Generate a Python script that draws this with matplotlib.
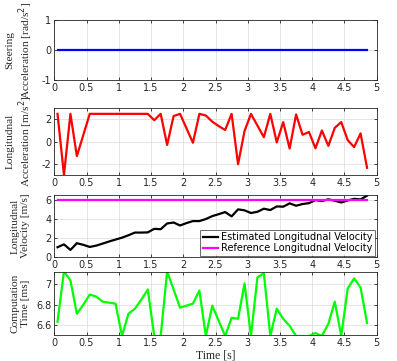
import numpy as np
import matplotlib
matplotlib.use("Agg")
import matplotlib.pyplot as plt

plt.rcParams["axes.unicode_minus"] = False

time_s = [round(0.05 + 0.1 * i, 2) for i in range(49)]

steer_acc = [0.0] * 49

long_acc = [2.5, -3.0, 2.5, -1.3, 0.6, 2.5, 2.5, 2.5, 2.5, 2.5,
            2.5, 2.5, 2.5, 2.5, 2.5, 1.93, 2.5, -0.3, 2.3, 2.5,
            1.2, -0.1, 2.5, 2.35, 1.8, 1.4, 1.05, 2.5, -2.03, 0.95,
            2.5, 1.45, 0.4, 2.5, -0.07, 1.76, -0.62, 2.45, 0.62, 0.87,
            -0.6, 1.0, -0.38, 1.24, 1.76, 0.14, -0.49, 0.74, -2.35]

long_vel = [1.05, 1.35, 0.77, 1.47, 1.3, 1.08, 1.22, 1.43, 1.65, 1.85,
            2.05, 2.3, 2.58, 2.58, 2.6, 2.97, 2.93, 3.53, 3.63, 3.32,
            3.57, 3.78, 3.78, 3.99, 4.3, 4.5, 4.72, 4.27, 5.0, 4.9,
            4.62, 4.75, 5.07, 4.93, 5.31, 5.28, 5.63, 5.38, 5.56, 5.65,
            5.97, 5.87, 6.05, 5.9, 5.72, 5.93, 6.1, 6.04, 6.43]

ref_vel = [6.0] * 49

comp_time = [6.63, 7.13, 7.04, 6.71, 6.8, 6.9, 6.88, 6.83, 6.82, 6.81,
             6.49, 6.71, 6.76, 6.85, 6.95, 6.49, 6.49, 7.13, 6.95, 6.77,
             6.79, 6.81, 6.94, 6.49, 6.79, 6.64, 6.49, 6.67, 6.66, 7.01,
             6.49, 7.07, 7.11, 6.49, 6.76, 6.66, 6.59, 6.49, 6.49, 6.49,
             6.52, 6.49, 6.61, 6.83, 6.49, 6.96, 7.06, 6.97, 6.62]

xticks = [0, 0.5, 1, 1.5, 2, 2.5, 3, 3.5, 4, 4.5, 5]
xticklabels = ["0", "0.5", "1", "1.5", "2", "2.5", "3", "3.5", "4", "4.5", "5"]

W, H = 397, 361
fig = plt.figure(figsize=(W / 100, H / 100), dpi=100)

left, right = 54.3, 376.7
panels = [(20, 80), (108.3, 175), (195, 257.3), (272.3, 335)]

serif = ["Liberation Serif", "DejaVu Serif"]
tick_color = (0.15, 0.15, 0.15)
edge_color = (0.15, 0.15, 0.15)
label_kw = dict(family=serif, fontsize=8.2, va="center", color=tick_color,
                linespacing=1.15)

axes = []
for top, bot in panels:
    ax = fig.add_axes([left / W, 1 - bot / H, (right - left) / W, (bot - top) / H])
    ax.set_xlim(0, 5)
    ax.set_xticks(xticks)
    ax.set_xticklabels(xticklabels)
    ax.grid(True, color=(0.88, 0.88, 0.88), linewidth=0.6)
    ax.set_axisbelow(True)
    ax.tick_params(direction="in", length=2.5, width=0.6, labelsize=7,
                   colors=tick_color, pad=2, top=True, right=True,
                   labeltop=False, labelright=False)
    for s in ax.spines.values():
        s.set_color(edge_color)
        s.set_linewidth(0.6)
    axes.append(ax)

ax1, ax2, ax3, ax4 = axes

ax1.plot(time_s, steer_acc, color="blue", lw=1.6)
ax1.set_ylim(-1, 1)
ax1.set_yticks([-1, 0, 1])
ax1.set_ylabel("Steering\nAcceleration [rad/s$^2$]", **label_kw)

ax2.plot(time_s, long_acc, color="red", lw=1.6)
ax2.set_ylim(-3, 3)
ax2.set_yticks([-2, 0, 2])
ax2.set_ylabel("Longitudnal\nAcceleration [m/s$^2$]", **label_kw)

ax3.plot(time_s, long_vel, color="black", lw=1.6, label="Estimated Longitudnal Velocity")
ax3.plot(time_s, ref_vel, color="magenta", lw=1.6, label="Reference Longitudnal Velocity")
ax3.set_ylim(0, 6.5)
ax3.set_yticks([0, 2, 4, 6])
ax3.set_ylabel("Longitudnal\nVelocity [m/s]", **label_kw)
leg = ax3.legend(loc="lower right", fontsize=7, frameon=True, fancybox=False,
                 borderpad=0.25, labelspacing=0.15, handlelength=1.6,
                 handletextpad=0.3, borderaxespad=0.15)
leg.get_frame().set_edgecolor(edge_color)
leg.get_frame().set_linewidth(0.6)

ax4.plot(time_s, comp_time, color=(0, 1, 0), lw=1.6)
ax4.set_ylim(6.5, 7.12)
ax4.set_yticks([6.6, 6.8, 7.0])
ax4.set_yticklabels(["6.6", "6.8", "7"])
ax4.set_ylabel("Computation\nTime [ms]", **label_kw)
ax4.set_xlabel("Time [s]", family=serif, fontsize=8.5, labelpad=1, color=tick_color)

for ax in axes:
    ax.yaxis.set_label_coords(-0.105, 0.5)

fig.savefig("out.png", dpi=100)
